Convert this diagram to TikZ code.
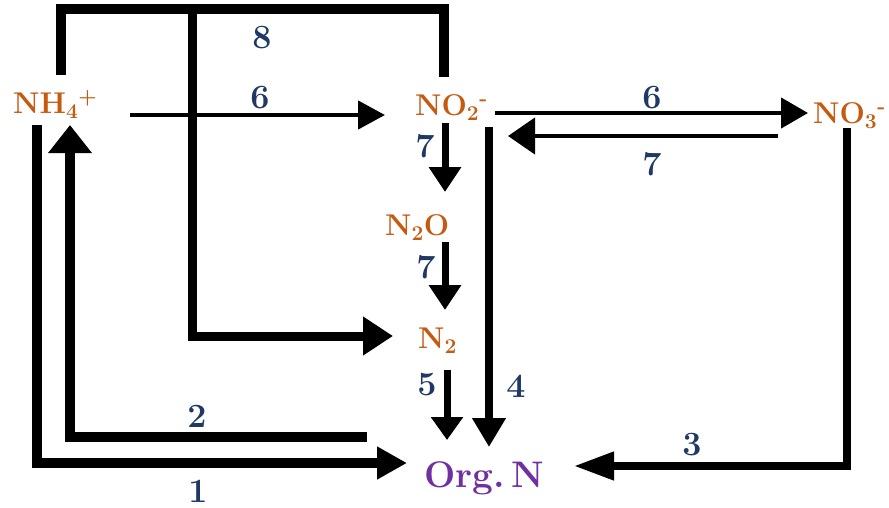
\documentclass[tikz,border=0pt]{standalone}
\usepackage{fontspec}
\usetikzlibrary{arrows.meta}
\definecolor{speciescol}{HTML}{C55A11}
\definecolor{numcol}{HTML}{1F3864}
\definecolor{orgcol}{HTML}{7030A0}
\tikzset{
  specnode/.style={anchor=base west, inner sep=0pt, text=speciescol, font=\fontsize{30}{36}\selectfont\bfseries},
  orgnode/.style={anchor=base west, inner sep=0pt, text=orgcol, font=\fontsize{37}{44}\selectfont\bfseries},
  numnode/.style={anchor=base, inner sep=0pt, text=numcol, font=\fontsize{34}{40}\selectfont\bfseries},
  thickline/.style={line width=10pt},
  medline/.style={line width=7.5pt},
  vline/.style={line width=7pt},
  thinline/.style={line width=4.5pt},
  ah/.style 2 args={-{Triangle[length=#1pt,width=#2pt]}},
}
\begin{document}
\begin{tikzpicture}[x=1pt,y=-1pt]
\useasboundingbox (0,0) rectangle (889,507);

% species
\node[specnode] (nh4) at (13,113) {NH\textsubscript{4}\textsuperscript{+}};
\node[specnode] (no2) at (415,115) {NO\textsubscript{2}\textsuperscript{-}};
\node[specnode] (no3) at (813,123) {NO\textsubscript{3}\textsuperscript{-}};
\node[specnode] (n2o) at (385,235) {N\textsubscript{2}O};
\node[specnode] (n2) at (418,348) {N\textsubscript{2}};
\node[orgnode] (orgn) at (424,487) {Org.\hspace{0.18em}N};

% step numbers
\node[numnode] (l8) at (262,48) {8};
\node[numnode] (l6a) at (260,108) {6};
\node[numnode] (l6b) at (652,108) {6};
\node[numnode] (l7h) at (652,175) {7};
\node[numnode] (l7a) at (425,157) {7};
\node[numnode] (l7b) at (426,278) {7};
\node[numnode] (l5) at (427,395) {5};
\node[numnode] (l4) at (516,397) {4};
\node[numnode] (l3) at (692,455) {3};
\node[numnode] (l2) at (197,427) {2};
\node[numnode] (l1) at (198,502) {1};

% connector end points
\coordinate (nh4top) at (61,75);
\coordinate (topL) at (61,8.5);
\coordinate (topR) at (444,8.5);
\coordinate (no2top) at (444,77);
\coordinate (branchtop) at (192,4);
\coordinate (branchcorner) at (192,336);
\coordinate (n2west) at (393,336);
\coordinate (nh4east) at (130,115);
\coordinate (no2west) at (385,115);
\coordinate (no2east) at (495,113);
\coordinate (no3west) at (808,113);
\coordinate (no3westlow) at (778,136);
\coordinate (no2eastlow) at (508,136);
\coordinate (no2south) at (445,123);
\coordinate (n2onorth) at (445,192);
\coordinate (n2osouth) at (445,242);
\coordinate (n2north) at (445,310);
\coordinate (n2south) at (447,370);
\coordinate (orgnnorthA) at (447,440);
\coordinate (no2southB) at (489,127);
\coordinate (orgnnorthB) at (489,447);
\coordinate (no3south) at (847,128);
\coordinate (corner3) at (847,466);
\coordinate (orgneast) at (574,466);
\coordinate (start2) at (367,437);
\coordinate (corner2) at (70,437);
\coordinate (nh4south) at (70,125);
\coordinate (start1) at (37,125);
\coordinate (corner1) at (37,463);
\coordinate (orgnwest) at (407,463);

% 8
\draw[thickline] (nh4top) -- (topL) -- (topR) -- (no2top);
\draw[thickline, line width=9pt, ah={30}{37}] (branchtop) -- (branchcorner) -- (n2west);
% 6 and 7 horizontal
\draw[thinline, ah={27}{28}] (nh4east) -- (no2west);
\draw[thinline, ah={27}{30}] (no2east) -- (no3west);
\draw[thinline, ah={27}{36}] (no3westlow) -- (no2eastlow);
% 7 vertical
\draw[vline, ah={25}{31}] (no2south) -- (n2onorth);
\draw[vline, ah={25}{31}] (n2osouth) -- (n2north);
% 5
\draw[vline, ah={23}{31}] (n2south) -- (orgnnorthA);
% 4
\draw[medline, ah={29}{32}] (no2southB) -- (orgnnorthB);
% 3
\draw[medline, ah={40}{27}] (no3south) -- (corner3) -- (orgneast);
% 2
\draw[thickline, ah={28}{42}] (start2) -- (corner2) -- (nh4south);
% 1
\draw[thickline, ah={30}{31}] (start1) -- (corner1) -- (orgnwest);
\end{tikzpicture}
\end{document}
